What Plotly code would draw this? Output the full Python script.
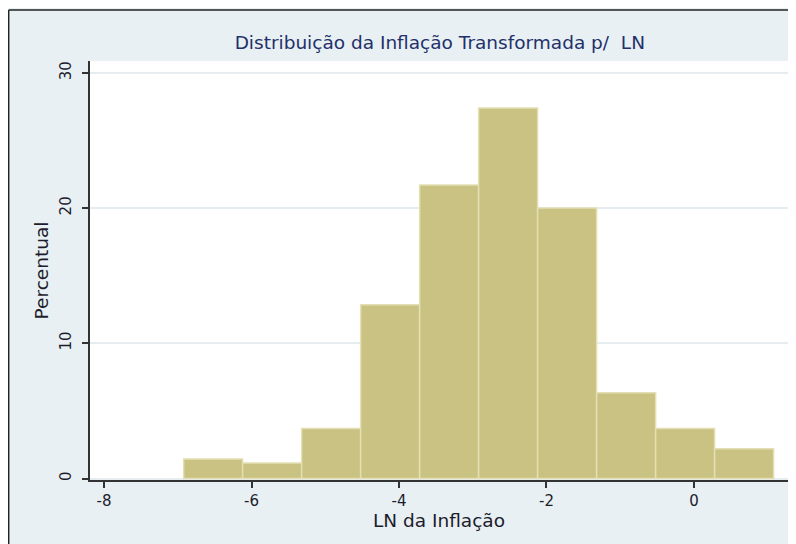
import plotly.graph_objects as go

# Histograma do LN da inflação (percentual por classe)
centros = [-6.52, -5.72, -4.92, -4.12, -3.32, -2.52, -1.72, -0.92, -0.12, 0.68]
percentual = [1.45, 1.15, 3.7, 12.85, 21.7, 27.4, 20.0, 6.35, 3.7, 2.2]
x_ticks = [-8, -6, -4, -2, 0]
y_ticks = [0, 10, 20, 30]

fundo = "#E8F0F3"
cor_barra = "#C9C282"
cor_borda = "#E4DFB4"
fonte = "DejaVu Sans"

fig = go.Figure(go.Bar(
    x=centros,
    y=percentual,
    width=0.8,
    marker=dict(color=cor_barra, line=dict(color=cor_borda, width=1.5)),
    hoverinfo="x+y",
))

# a página já tem 8px de margem no body, por isso 788x536
fig.update_layout(
    width=788,
    height=536,
    paper_bgcolor=fundo,
    plot_bgcolor="white",
    margin=dict(l=82, r=8, t=53, b=64),
    showlegend=False,
    font=dict(family=fonte, size=15, color="#1c1c2c"),
    title=dict(
        text="Distribuição da Inflação Transformada p/  LN",
        x=0.548, xanchor="center",
        y=0.9347, yanchor="middle",
        font=dict(family=fonte, size=18.5, color="#23306a"),
    ),
    # moldura externa (esquerda e topo)
    shapes=[
        dict(type="line", xref="paper", yref="paper",
             x0=-0.1165, x1=1.02, y0=1.1217, y1=1.1217,
             line=dict(color="#222222", width=1.5)),
        dict(type="line", xref="paper", yref="paper",
             x0=-0.1165, x1=-0.1165, y0=1.1217, y1=-0.2,
             line=dict(color="#222222", width=1.5)),
    ],
)

fig.update_xaxes(
    range=[-8.19, 1.275],
    tickvals=x_ticks,
    ticktext=[str(v) for v in x_ticks],
    ticks="outside", ticklen=6, tickwidth=1.5, tickcolor="#333333",
    showline=True, linecolor="#333333", linewidth=2,
    showgrid=False, zeroline=False,
    title=dict(text="LN da Inflação", standoff=0, font=dict(size=18.5)),
)

fig.update_yaxes(
    range=[-0.11, 30.88],
    tickvals=y_ticks,
    tickangle=-90,
    ticklabelstandoff=5,
    ticks="outside", ticklen=6, tickwidth=1.5, tickcolor="#333333",
    showline=True, linecolor="#333333", linewidth=2,
    showgrid=True, gridcolor="#E6EDF1", gridwidth=1.5,
    zeroline=False,
    title=dict(text="Percentual", standoff=4, font=dict(size=18.5)),
)

fig.write_html("out.html")
